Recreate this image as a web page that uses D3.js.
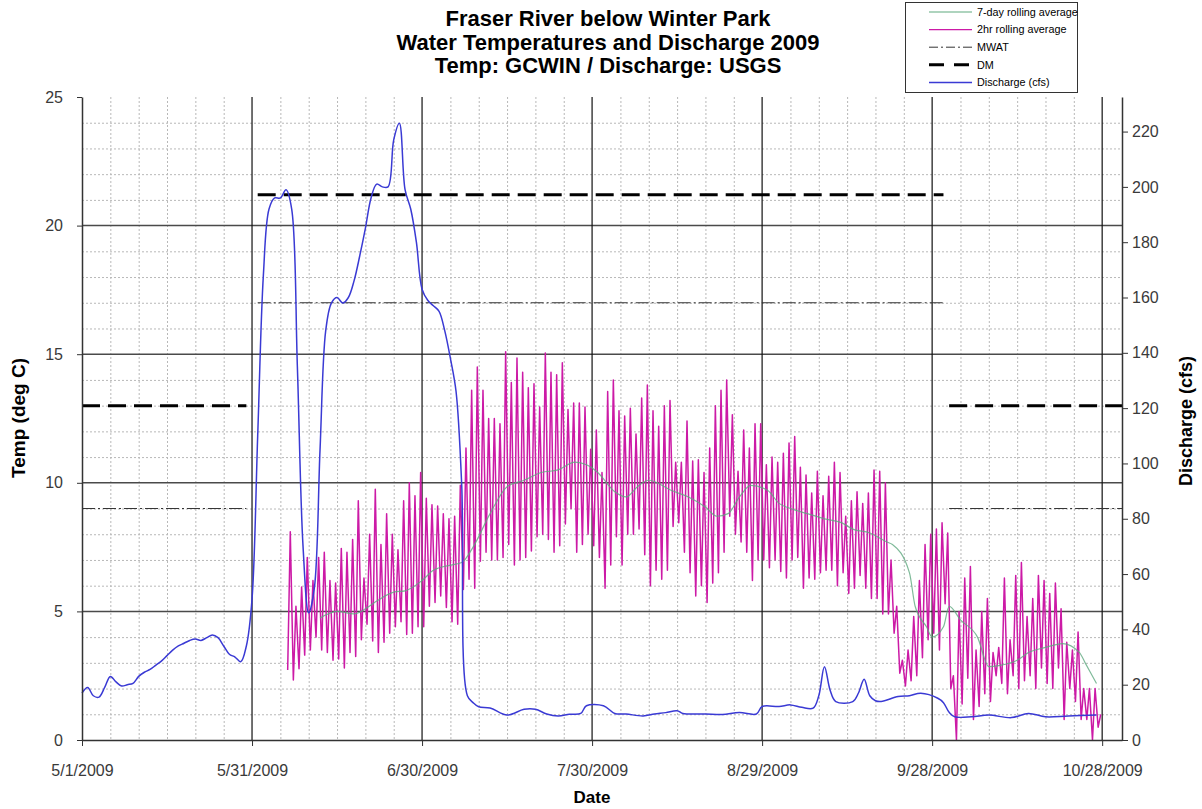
<!DOCTYPE html>
<html>
<head>
<meta charset="utf-8">
<script src="https://cdn.jsdelivr.net/npm/d3@7"></script>
<style>
  body { margin: 0; background: #fff; }
  text { font-family: "Liberation Sans", Arial, sans-serif; }
</style>
</head>
<body>
<div id="chart"></div>
<script>
// ---- data ----

// title lines
var titleLines = ["Fraser River below Winter Park",
                  "Water Temperatures and Discharge 2009",
                  "Temp: GCWIN / Discharge: USGS"];

// temperature standards (MWAT / DM) per season
var stdStart = ["2009-05-01", "2009-06-01", "2009-10-01"];
var stdEnd = ["2009-05-30", "2009-09-30", "2009-11-01"];
var dmValues = [13, 21.2, 13];
var mwatValues = [9, 17, 9];

// 2hr rolling average: daily low / high from 6/6/2009 on
var tempStart = "2009-06-06";
var tempMax = [8.1, 5.2, 5.95, 7.1, 6.2, 7.1, 7.3, 6.2, 6.1, 7.45,
  7.3, 7.8, 9.3, 6.3, 8.0, 9.75, 7.6, 8.8, 8.0, 7.4,
  9.3, 10.0, 9.5, 10.4, 9.4, 9.15, 9.1, 8.8, 8.6, 8.7,
  9.9, 11.35, 13.6, 14.5, 13.6, 12.5, 12.5, 12.3, 15.1, 13.9,
  14.85, 14.3, 13.7, 13.85, 12.95, 15.05, 14.3, 14.2, 14.67, 12.85,
  13.1, 13.1, 12.95, 11.3, 12.05, 10.4, 13.55, 14.0, 12.8, 12.6,
  12.9, 11.9, 13.3, 13.8, 12.8, 12.2, 13.0, 13.2, 10.8, 10.8,
  12.4, 10.85, 10.9, 10.4, 11.35, 13.0, 13.6, 14.0, 12.65, 10.45,
  12.05, 11.35, 12.3, 12.3, 10.7, 11.0, 10.8, 11.15, 11.55, 11.8,
  10.6, 10.3, 9.6, 10.45, 9.5, 10.25, 10.8, 10.4, 8.7, 9.3,
  9.65, 9.2, 9.6, 10.5, 10.45, 10.0, 7.0, 5.2, 3.1, 3.5,
  4.8, 6.2, 7.6, 8.0, 8.2, 8.45, 8.05, 2.5, 5.0, 6.3,
  6.75, 3.5, 5.0, 5.5, 3.4, 3.6, 6.3, 3.9, 6.4, 6.9,
  4.8, 5.5, 6.4, 6.2, 5.7, 6.1, 5.1, 3.8, 3.5, 4.2,
  2.0, 2.0, 2.0, 1.0];
var tempMin = [2.72, 2.33, 2.77, 3.3, 3.5, 4.0, 3.5, 3.4, 3.1, 3.15,
  2.8, 3.4, 3.25, 3.9, 4.5, 3.85, 3.4, 3.8, 4.15, 4.4,
  4.6, 4.1, 4.15, 4.4, 4.4, 5.2, 5.35, 5.6, 5.15, 4.6,
  4.5, 5.85, 6.25, 5.9, 6.95, 7.3, 7.0, 7.0, 7.1, 7.6,
  6.8, 7.0, 7.1, 7.35, 7.9, 8.0, 7.8, 7.3, 7.55, 8.4,
  9.0, 7.3, 7.6, 8.0, 7.55, 7.1, 5.9, 6.8, 7.9, 6.8,
  8.0, 8.0, 8.2, 7.2, 6.0, 6.6, 6.25, 6.6, 8.3, 8.45,
  7.3, 6.5, 5.6, 6.0, 5.35, 6.1, 6.5, 7.3, 8.7, 8.0,
  7.7, 7.3, 6.2, 7.0, 7.0, 6.7, 7.0, 6.55, 6.3, 7.0,
  7.1, 5.9, 6.3, 6.25, 6.5, 6.6, 6.6, 6.0, 6.5, 5.7,
  5.9, 6.4, 5.9, 5.5, 5.5, 4.9, 4.9, 4.15, 2.6, 2.1,
  2.3, 2.5, 3.2, 3.9, 4.15, 3.5, 5.3, 2.0, 0.0, 1.4,
  2.4, 0.8, 1.3, 1.8, 1.5, 2.5, 2.2, 1.8, 2.5, 2.0,
  2.3, 2.5, 2.0, 2.8, 2.2, 2.0, 2.8, 0.8, 2.0, 1.5,
  0.8, 0.8, 0.0, 0.5];

// 7-day rolling average
var avgDates = ["2009-06-12", "2009-06-15", "2009-06-18", "2009-06-21", "2009-06-22", "2009-06-25",
  "2009-06-27", "2009-06-30", "2009-07-02", "2009-07-05", "2009-07-07", "2009-07-09", "2009-07-12",
  "2009-07-15", "2009-07-18", "2009-07-21", "2009-07-24", "2009-07-27", "2009-07-29", "2009-07-31",
  "2009-08-03", "2009-08-05", "2009-08-07", "2009-08-09", "2009-08-13", "2009-08-16", "2009-08-19",
  "2009-08-21", "2009-08-23", "2009-08-25", "2009-08-27", "2009-08-30", "2009-09-01", "2009-09-03",
  "2009-09-06", "2009-09-09", "2009-09-12", "2009-09-14", "2009-09-17", "2009-09-20", "2009-09-21",
  "2009-09-24", "2009-09-25", "2009-09-27", "2009-09-28", "2009-09-30", "2009-10-01", "2009-10-03",
  "2009-10-06", "2009-10-08", "2009-10-10", "2009-10-13", "2009-10-15", "2009-10-18", "2009-10-21",
  "2009-10-24", "2009-10-25", "2009-10-27"];
var avgValues = [4.74, 5.0, 4.9, 5.25, 5.4, 5.75,
  5.8, 6.2, 6.6, 6.8, 6.9, 7.5, 8.8,
  9.85, 10.1, 10.4, 10.5, 10.8, 10.7, 10.4,
  9.65, 9.45, 9.85, 10.1, 9.7, 9.45, 9.06,
  8.7, 8.8, 9.45, 9.9, 9.7, 9.2, 9.0,
  8.8, 8.6, 8.45, 8.2, 8.05, 7.7, 7.6,
  6.5, 5.2, 4.4, 4.0, 4.4, 5.2, 4.67,
  4.0, 2.85, 2.9, 3.1, 3.4, 3.6, 3.75,
  3.4, 3.0, 2.2];

// discharge (cfs)
var flowDates = ["2009-05-01", "2009-05-02", "2009-05-03", "2009-05-04", "2009-05-05", "2009-05-06",
  "2009-05-07", "2009-05-08", "2009-05-09", "2009-05-10", "2009-05-11", "2009-05-12", "2009-05-13",
  "2009-05-14", "2009-05-15", "2009-05-16", "2009-05-17", "2009-05-18", "2009-05-19", "2009-05-20",
  "2009-05-21", "2009-05-22", "2009-05-23", "2009-05-24", "2009-05-25", "2009-05-26", "2009-05-27",
  "2009-05-28", "2009-05-29", "2009-05-30", "2009-05-31", "2009-06-01", "2009-06-02", "2009-06-03",
  "2009-06-04", "2009-06-05", "2009-06-06", "2009-06-07", "2009-06-08", "2009-06-09", "2009-06-10",
  "2009-06-11", "2009-06-12", "2009-06-13", "2009-06-14", "2009-06-15", "2009-06-16", "2009-06-17",
  "2009-06-18", "2009-06-19", "2009-06-20", "2009-06-21", "2009-06-22", "2009-06-23", "2009-06-24",
  "2009-06-25", "2009-06-26", "2009-06-27", "2009-06-28", "2009-06-29", "2009-06-30", "2009-07-01",
  "2009-07-02", "2009-07-03", "2009-07-04", "2009-07-05", "2009-07-06", "2009-07-07", "2009-07-08",
  "2009-07-09", "2009-07-10", "2009-07-12", "2009-07-15", "2009-07-18", "2009-07-20", "2009-07-22",
  "2009-07-24", "2009-07-26", "2009-07-28", "2009-07-29", "2009-08-01", "2009-08-03", "2009-08-05",
  "2009-08-08", "2009-08-10", "2009-08-12", "2009-08-14", "2009-08-15", "2009-08-19", "2009-08-22",
  "2009-08-25", "2009-08-28", "2009-08-29", "2009-09-01", "2009-09-03", "2009-09-05", "2009-09-07",
  "2009-09-08", "2009-09-09", "2009-09-10", "2009-09-11", "2009-09-14", "2009-09-15", "2009-09-16",
  "2009-09-17", "2009-09-18", "2009-09-19", "2009-09-22", "2009-09-24", "2009-09-26", "2009-09-29",
  "2009-09-30", "2009-10-01", "2009-10-02", "2009-10-05", "2009-10-08", "2009-10-12", "2009-10-15",
  "2009-10-18", "2009-10-22", "2009-10-27"];
var flowValues = [17, 19, 16, 15.5, 19, 23,
  21, 19.5, 20, 20.5, 23, 24.5, 25.5,
  27, 28.5, 30.5, 32.5, 34, 35, 36,
  36.5, 36, 37, 38, 37, 34, 31,
  30, 28.3, 34, 51, 110, 168, 192,
  196, 196, 199, 192, 135, 70, 46,
  55, 105, 148, 158, 160, 158, 160,
  166, 175, 185, 196, 201, 200, 200,
  217, 223, 199, 192, 180, 163, 159,
  157, 155, 148, 138, 126, 92, 16,
  13.5, 12, 11.6, 9, 11.1, 11.1, 9.4,
  8.7, 9.3, 9.6, 12.4, 12.4, 9.6, 9.4,
  8.7, 9.4, 9.9, 10.6, 9.6, 9.4, 9.2,
  9.9, 9.4, 12.1, 12.1, 12.7, 11.8, 11.5,
  16, 26.5, 18, 13.9, 13.9, 17, 22,
  16, 14.2, 13.9, 15.7, 16, 16.9, 15.1,
  13.5, 10, 8.4, 8.4, 9.0, 8.1, 9.6,
  8.4, 8.7, 9.0];

// axis ticks
var tempTicks = [0, 5, 10, 15, 20, 25];
var flowTicks = [0, 20, 40, 60, 80, 100, 120, 140, 160, 180, 200, 220];
var dateTickDays = [0, 30, 60, 90, 120, 150, 180];

// legend
var legendLabels = ["7-day rolling average", "2hr rolling average", "MWAT", "DM", "Discharge (cfs)"];

// ---- drawing ----

var width = 1202;
var height = 809;
var plot = { left: 82, right: 1122, top: 97, bottom: 740 };

var colMagenta = "#cc1aa6";
var colGreen = "#5fa97f";
var colBlue = "#3a3ad4";

var parse = d3.timeParse("%Y-%m-%d");
var day0 = parse("2009-05-01");

// the date axis runs to midday of 10/31
var x = d3.scaleTime()
    .domain([day0, d3.timeHour.offset(parse("2009-10-31"), 12)])
    .range([plot.left, plot.right]);
var yT = d3.scaleLinear().domain([0, 25]).range([plot.bottom, plot.top]);
var yQ = d3.scaleLinear().domain([0, 232.5]).range([plot.bottom, plot.top]);

var svg = d3.select("#chart").append("svg")
    .attr("width", width)
    .attr("height", height);

svg.append("rect").attr("width", width).attr("height", height).attr("fill", "#fff");

// clip the series that run past the right edge
svg.append("clipPath").attr("id", "plotclip")
    .append("rect")
    .attr("x", plot.left).attr("y", plot.top - 5)
    .attr("width", plot.right - plot.left).attr("height", plot.bottom - plot.top + 10);

// grid: dotted minor lines, solid major lines
var grid = svg.append("g");
var minorH = d3.range(1, 25).filter(function (v) { return v % 5 !== 0; });
var minorV = d3.range(5, 183, 5).filter(function (d) { return d % 30 !== 0; });

grid.selectAll(".minh").data(minorH).enter().append("line")
    .attr("x1", plot.left).attr("x2", plot.right)
    .attr("y1", function (d) { return yT(d) + 0.5; })
    .attr("y2", function (d) { return yT(d) + 0.5; })
    .attr("stroke", "#b8b8b8").attr("stroke-dasharray", "2,2");

grid.selectAll(".minv").data(minorV).enter().append("line")
    .attr("x1", function (d) { return x(d3.timeDay.offset(day0, d)) + 0.5; })
    .attr("x2", function (d) { return x(d3.timeDay.offset(day0, d)) + 0.5; })
    .attr("y1", plot.top).attr("y2", plot.bottom)
    .attr("stroke", "#b8b8b8").attr("stroke-dasharray", "2,2");

grid.selectAll(".majh").data([5, 10, 15, 20]).enter().append("line")
    .attr("x1", plot.left).attr("x2", plot.right)
    .attr("y1", function (d) { return yT(d); })
    .attr("y2", function (d) { return yT(d); })
    .attr("stroke", "#4a4a4a").attr("stroke-width", 1.5);

grid.selectAll(".majv").data(dateTickDays.slice(1)).enter().append("line")
    .attr("x1", function (d) { return x(d3.timeDay.offset(day0, d)); })
    .attr("x2", function (d) { return x(d3.timeDay.offset(day0, d)); })
    .attr("y1", plot.top).attr("y2", plot.bottom)
    .attr("stroke", "#111").attr("stroke-width", 1.2);

// standards: MWAT (dash dot) and DM (thick dashes)
var stdIdx = d3.range(stdStart.length);
var stdG = svg.append("g").attr("clip-path", "url(#plotclip)");
stdG.append("g").selectAll("line").data(stdIdx).enter().append("line")
    .attr("x1", function (i) { return x(parse(stdStart[i])); })
    .attr("x2", function (i) { return x(parse(stdEnd[i])); })
    .attr("y1", function (i) { return yT(mwatValues[i]); })
    .attr("y2", function (i) { return yT(mwatValues[i]); })
    .attr("stroke", "#333").attr("stroke-width", 1)
    .attr("stroke-dasharray", "13,3,2,3");

stdG.append("g").selectAll("line").data(stdIdx).enter().append("line")
    .attr("x1", function (i) { return x(parse(stdStart[i])); })
    .attr("x2", function (i) { return x(parse(stdEnd[i])); })
    .attr("y1", function (i) { return yT(dmValues[i]); })
    .attr("y2", function (i) { return yT(dmValues[i]); })
    .attr("stroke", "#000").attr("stroke-width", 3)
    .attr("stroke-dasharray", "18,8");

// 2hr series: morning low and afternoon high of each day
var t0 = parse(tempStart);
var tempPts = [];
tempMax.forEach(function (v, i) {
    tempPts.push([d3.timeHour.offset(t0, i * 24 + 7), tempMin[i]]);
    tempPts.push([d3.timeHour.offset(t0, i * 24 + 18), v]);
});

svg.append("path")
    .datum(tempPts)
    .attr("fill", "none")
    .attr("stroke", colMagenta)
    .attr("stroke-width", 1.5)
    .attr("stroke-linejoin", "round")
    .attr("d", d3.line()
        .x(function (d) { return x(d[0]); })
        .y(function (d) { return yT(d[1]); }));

// 7-day rolling average
svg.append("path")
    .datum(avgDates.map(function (d, i) { return [parse(d), avgValues[i]]; }))
    .attr("fill", "none")
    .attr("stroke", colGreen)
    .attr("stroke-width", 1.2)
    .attr("opacity", 0.8)
    .attr("d", d3.line()
        .curve(d3.curveMonotoneX)
        .x(function (d) { return x(d[0]); })
        .y(function (d) { return yT(d[1]); }));

// discharge on the secondary axis
svg.append("path")
    .datum(flowDates.map(function (d, i) { return [parse(d), flowValues[i]]; }))
    .attr("fill", "none")
    .attr("stroke", colBlue)
    .attr("stroke-width", 1.5)
    .attr("d", d3.line()
        .curve(d3.curveCatmullRom.alpha(0.5))
        .x(function (d) { return x(d[0]); })
        .y(function (d) { return yQ(d[1]); }));

// axes
var fmtDate = function (d) { return (d.getMonth() + 1) + "/" + d.getDate() + "/" + d.getFullYear(); };

var axL = svg.append("g")
    .attr("transform", "translate(" + plot.left + ",0)")
    .call(d3.axisLeft(yT).tickValues(tempTicks).tickSize(5).tickPadding(14).tickSizeOuter(0));
var axR = svg.append("g")
    .attr("transform", "translate(" + plot.right + ",0)")
    .call(d3.axisRight(yQ).tickValues(flowTicks).tickSize(6).tickPadding(4).tickSizeOuter(0));
var axB = svg.append("g")
    .attr("transform", "translate(0," + plot.bottom + ")")
    .call(d3.axisBottom(x)
        .tickValues(dateTickDays.map(function (d) { return d3.timeDay.offset(day0, d); }))
        .tickFormat(fmtDate).tickSize(6).tickPadding(19).tickSizeOuter(0));

[axL, axR, axB].forEach(function (a) {
    a.select(".domain").attr("stroke", "#333").attr("stroke-width", 1.5);
    a.selectAll(".tick line").attr("stroke", "#333");
    a.selectAll("text").attr("font-size", 16).attr("fill", "#3a3a3a")
        .attr("font-family", "'Liberation Sans', Arial, sans-serif");
});

// axis titles
svg.append("text")
    .attr("transform", "translate(25,418) rotate(-90)")
    .attr("text-anchor", "middle")
    .attr("font-size", 19).attr("font-weight", "bold")
    .text("Temp (deg C)");
svg.append("text")
    .attr("transform", "translate(1192,421) rotate(-90)")
    .attr("text-anchor", "middle")
    .attr("font-size", 18).attr("font-weight", "bold")
    .text("Discharge (cfs)");
svg.append("text")
    .attr("x", 592).attr("y", 803)
    .attr("text-anchor", "middle")
    .attr("font-size", 17).attr("font-weight", "bold")
    .text("Date");

// title
svg.append("g").selectAll("text").data(titleLines).enter().append("text")
    .attr("x", 608)
    .attr("y", function (d, i) { return 26 + i * 23.5; })
    .attr("text-anchor", "middle")
    .attr("font-size", 22).attr("font-weight", "bold")
    .text(function (d) { return d; });

// legend
var lg = svg.append("g");
lg.append("rect")
    .attr("x", 905.5).attr("y", 2.5).attr("width", 172).attr("height", 90)
    .attr("fill", "#fff").attr("stroke", "#333");

var legStyle = [
    { stroke: colGreen, width: 1.2, dash: null },
    { stroke: colMagenta, width: 1.4, dash: null },
    { stroke: "#333", width: 1, dash: "9,3,2,3" },
    { stroke: "#000", width: 3, dash: "15,10" },
    { stroke: colBlue, width: 1.5, dash: null }
];
var legItem = lg.selectAll(".item").data(legendLabels).enter().append("g")
    .attr("transform", function (d, i) { return "translate(0," + (12 + i * 17.6) + ")"; });
legItem.append("line")
    .attr("x1", 929).attr("x2", 972)
    .attr("stroke", function (d, i) { return legStyle[i].stroke; })
    .attr("stroke-width", function (d, i) { return legStyle[i].width; })
    .attr("stroke-dasharray", function (d, i) { return legStyle[i].dash; });
legItem.append("text")
    .attr("x", 977).attr("dy", "0.35em")
    .attr("font-size", 10.8)
    .text(function (d) { return d; });
</script>
</body>
</html>
